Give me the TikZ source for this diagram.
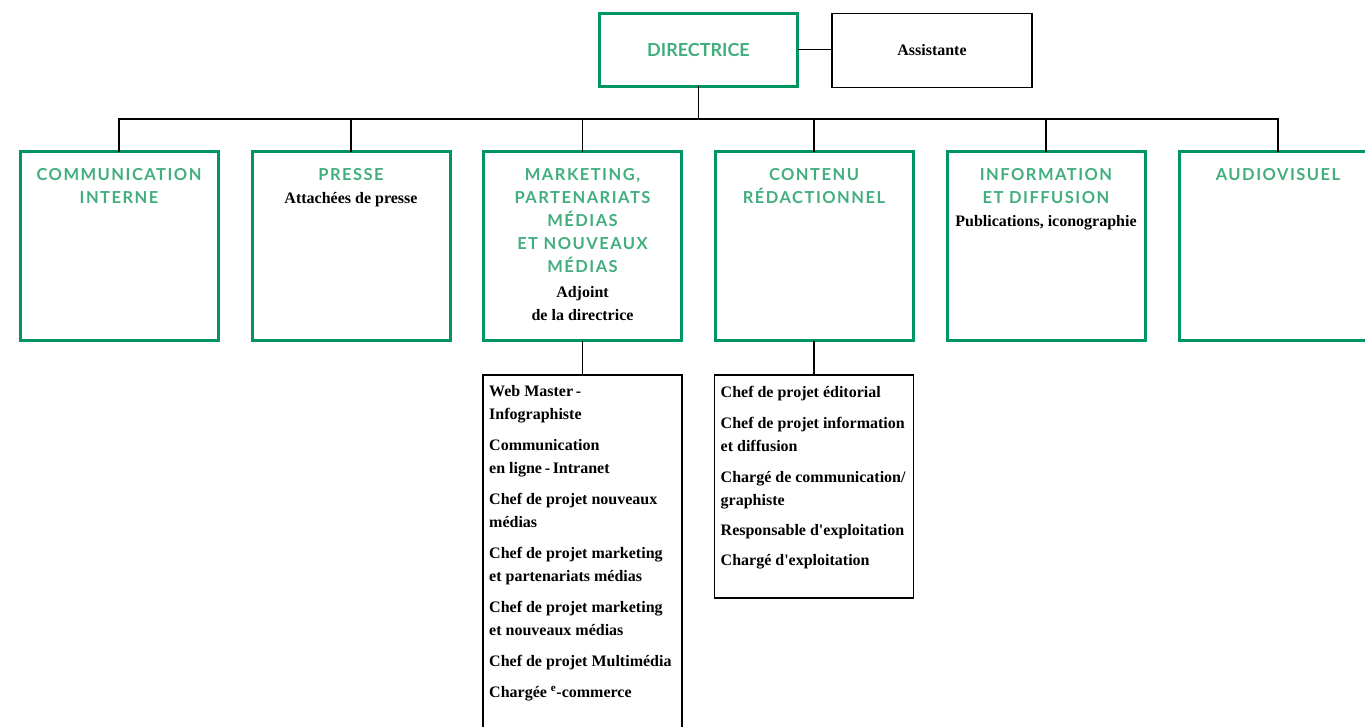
\documentclass[tikz,border=0pt]{standalone}
\usepackage{fontspec}
\setmainfont{Liberation Serif}
\newfontfamily\sqfont{Liberation Serif}
\newfontfamily\titlefont[LetterSpace=9]{Lato}
\newfontfamily\headfont{Lato}
\usepackage{tikz}
\usetikzlibrary{positioning}

\definecolor{boxgreen}{RGB}{0,150,95}
\definecolor{ttlgreen}{RGB}{66,174,126}

\newcommand{\ttl}[1]{{\color{ttlgreen}\titlefont\bfseries\fontsize{16.5}{23}\selectfont #1}}
\newcommand{\sq}{{\sqfont\bfseries '}}

\begin{document}
\begin{tikzpicture}[
    x=1pt, y=1pt,
    font=\fontsize{16}{23}\selectfont,
    headbox/.style={draw=boxgreen, line width=3pt, outer sep=0pt, inner sep=0pt, minimum width=198pt, minimum height=73pt},
    assbox/.style={draw, line width=1.3pt, outer sep=0pt, inner sep=0pt, minimum width=200pt, minimum height=74pt},
    deptbox/.style={draw=boxgreen, line width=3pt, outer sep=0pt, inner sep=0pt, minimum width=198pt, minimum height=189pt},
    listbox/.style={draw, line width=1.3pt, outer sep=0pt, inner sep=0pt, minimum width=199pt},
    heading/.style={align=center, inner sep=0pt, font=\fontsize{16}{23}\selectfont\bfseries},
    items/.style={align=left, inner sep=0pt, font=\fontsize{16}{23}\selectfont\bfseries},
    link/.style={line width=1.3pt}
]
    \useasboundingbox (0,0) rectangle (1365,-726);
    \clip (0,0) rectangle (1365,-726);

    % top
    \node [headbox, text=ttlgreen, font=\headfont\bfseries\fontsize{18}{20}\selectfont] (dir) at (698.5,-49.5) {DIRECTRICE};
    \node [assbox, font=\bfseries\fontsize{16}{18}\selectfont] (ass) at (932,-50.5) {Assistante};

    % departments
    \node [deptbox] (comm) at (119,-246) {};
    \node [deptbox] (press) at (351,-246) {};
    \node [deptbox] (mark) at (582.5,-246) {};
    \node [deptbox] (cont) at (814,-246) {};
    \node [deptbox] (info) at (1046,-246) {};
    \node [deptbox] (audio) at (1278,-246) {};

    \node [heading, below=17pt of comm.north] (comm_t) {\ttl{COMMUNICATION}\\\ttl{INTERNE}};
    \node [heading, below=17pt of press.north] (press_t) {\ttl{PRESSE}\\Attachées de presse};
    \node [heading, below=17pt of mark.north] (mark_t) {\ttl{MARKETING,}\\\ttl{PARTENARIATS}\\\ttl{MÉDIAS}\\\ttl{ET NOUVEAUX}\\\ttl{MÉDIAS}\\[2pt]Adjoint\\de la directrice};
    \node [heading, below=17pt of cont.north] (cont_t) {\ttl{CONTENU}\\\ttl{RÉDACTIONNEL}};
    \node [heading, below=17pt of info.north] (info_t) {\ttl{INFORMATION}\\\ttl{ET DIFFUSION}\\Publications, iconographie};
    \node [heading, below=17pt of audio.north] (audio_t) {\ttl{AUDIOVISUEL}};

    % staff lists
    \node [listbox, minimum height=400pt, below=34.5pt of mark] (mark_list) {};
    \node [listbox, minimum height=223pt, below=34.5pt of cont] (cont_list) {};

    \node [items, below right=10pt and 6pt of mark_list.north west] (mark_items) {%
        Web Master\,-\\ Infographiste\\[8pt]
        Communication\\en ligne\,-\,Intranet\\[8pt]
        Chef de projet nouveaux\\médias\\[8pt]
        Chef de projet marketing\\et partenariats médias\\[8pt]
        Chef de projet marketing\\et nouveaux médias\\[8pt]
        Chef de projet Multimédia\\[8pt]
        Chargée \textsuperscript{e}-commerce};
    \node [items, below right=11pt and 6pt of cont_list.north west] (cont_items) {%
        Chef de projet éditorial\\[8pt]
        Chef de projet information\\et diffusion\\[8pt]
        Chargé de communication/\\graphiste\\[7pt]
        Responsable d\sq exploitation\\[7pt]
        Chargé d\sq exploitation};

    % connectors
    \draw [link] (dir.east) -- (ass.west |- dir.east);
    \draw [link] (dir.south) -- ++(0,-33) coordinate (bus);
    \draw [link] (bus) -| (comm.north);
    \draw [link] (bus) -| (press.north);
    \draw [link] (bus) -| (mark.north);
    \draw [link] (bus) -| (cont.north);
    \draw [link] (bus) -| (info.north);
    \draw [link] (bus) -| (audio.north);
    \draw [link] (mark.south) -- (mark_list.north);
    \draw [link] (cont.south) -- (cont_list.north);

\end{tikzpicture}
\end{document}
